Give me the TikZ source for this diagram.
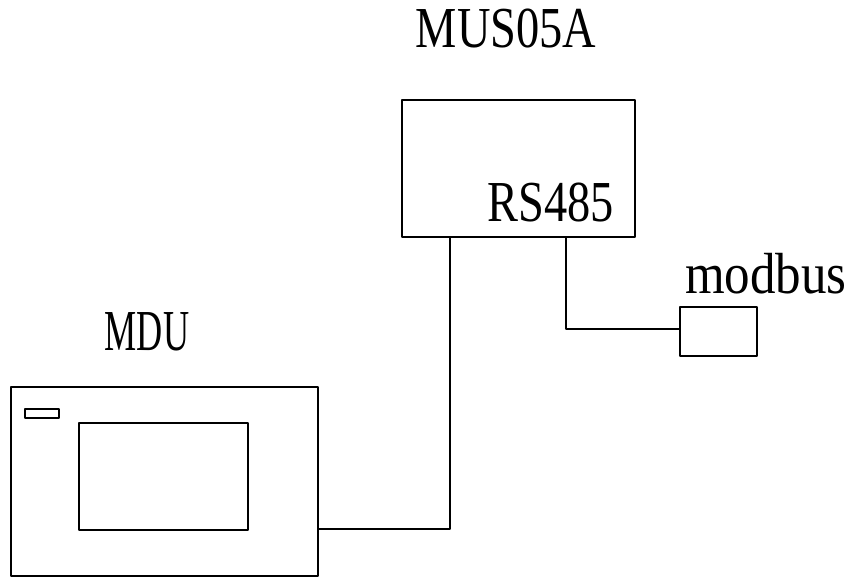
\documentclass[tikz,border=0pt]{standalone}
\usepackage{fontspec}
\newfontfamily\labelfont[FakeStretch=0.8]{Liberation Serif}
\usetikzlibrary{positioning}
\begin{document}
\begin{tikzpicture}[x=0.02cm,y=-0.02cm,line width=1.2pt,line join = round, line cap = round,
  box/.style={draw,rectangle,inner sep=0pt},
  lbl/.style={anchor=base,inner sep=0pt,font=\labelfont\fontsize{33}{36}\selectfont}]
				      \useasboundingbox (0,0) rectangle (857,577);
				      % boxes
				      \node[box,minimum width=4.66cm,minimum height=2.74cm] (mus) at (518.5,168.5) {};
				      \node[box,minimum width=6.14cm,minimum height=3.78cm] (mdu) at (164.5,481.5) {};
				      \node[box,minimum width=0.68cm,minimum height=0.18cm] (key) at (42,413.5) {};
				      \node[box,minimum width=3.38cm,minimum height=2.14cm] (screen) at (163.5,476.5) {};
				      \node[box,minimum width=1.54cm,minimum height=0.98cm] (mod) at (718.5,331.5) {};
				      % labels
				      \node[lbl] (musname) at (506,48) {MUS05A};
				      \node[lbl] (rs) at (551,222) {RS485};
				      \node[lbl] (mduname) at (147,350) {\scalebox{0.78}[1]{MDU}};
				      \node[lbl] (modname) at (766,293) {\scalebox{1.1}[1]{modbus}};
				      % lines
				      \coordinate (p1) at ([xshift=-1.37cm]mus.south);
				      \coordinate (p2) at ([xshift=0.95cm]mus.south);
				      \draw (p1) |- ([yshift=-0.95cm]mdu.east);
				      \draw (p2) |- ([yshift=0.05cm]mod.west);
			      \end{tikzpicture}
\end{document}
